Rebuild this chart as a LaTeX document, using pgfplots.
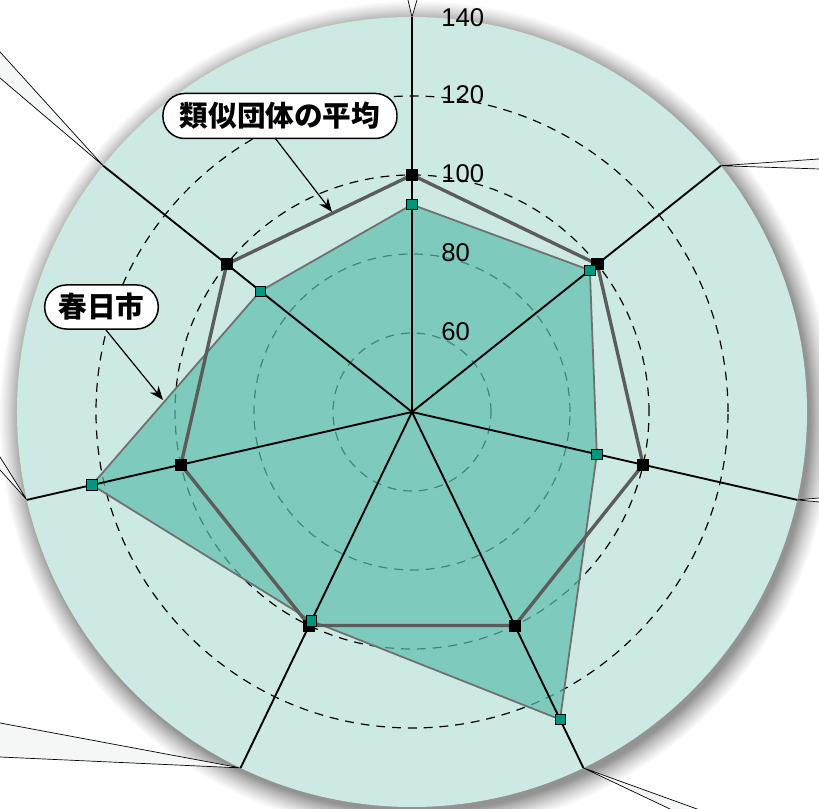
\documentclass[border=0pt]{standalone}
\usepackage{pgfplots}
\pgfplotsset{compat=1.18}
\usepackage{pgfplotstable}
\usepackage{fontspec}
\setmainfont{Liberation Sans}
\newfontfamily\cjk{Noto Sans CJK JP}
\usetikzlibrary{arrows.meta}
\definecolor{disc}{RGB}{204,233,228}
\definecolor{areafill}{RGB}{94,189,172}
\definecolor{areaedge}{RGB}{112,112,112}
\definecolor{avgline}{RGB}{92,92,92}
\definecolor{tealmark}{RGB}{0,150,128}
\definecolor{wedge}{RGB}{244,247,246}

% angle (deg), value
\pgfplotstableread{
ang v
90 92.5
38.571 97.6
-12.857 88.0
-64.286 126.4
-115.714 98.7
-167.143 123.1
-218.571 89.1
90 92.5
}\kasuga
\pgfplotstableread{
ang v
90 100
38.571 100
-12.857 100
-64.286 100
-115.714 100
-167.143 100
-218.571 100
90 100
}\average

\begin{document}
\begin{tikzpicture}
\begin{axis}[
  x=2pt, y=2pt,
  xmin=-104.3, xmax=103.04, ymin=-100.5, ymax=104.3,
  hide axis, clip=true,
]
\coordinate (SW) at (rel axis cs:0,0);
\coordinate (NE) at (rel axis cs:1,1);
% shadow halo
\pgfplotsinvokeforeach{199.6,200.0,200.4,200.8,201.2,201.6,202.0,202.5,203.0,203.5,204.0,204.6,205.2,205.8,206.5,207.2,208.0,208.8,209.7,210.6}{
  \fill[black, opacity=0.026] (axis cs:1.0,-1.4) circle[radius=#1pt];
}
% wedges beyond the disc
\filldraw[fill=wedge, draw=black, line width=0.35pt] (axis cs:0,100) -- (axis cs:-1.64,107) -- (axis cs:2.07,107) -- cycle;
\filldraw[fill=wedge, draw=black, line width=0.35pt] (axis cs:78.18,62.35) -- (axis cs:106,64.25) -- (axis cs:106,61.42) -- cycle;
\filldraw[fill=wedge, draw=black, line width=0.35pt] (axis cs:97.49,-22.25) -- (axis cs:106,-21.51) -- (axis cs:106,-23.06) -- cycle;
\filldraw[fill=wedge, draw=black, line width=0.35pt] (axis cs:43.39,-90.11) -- (axis cs:70.57,-103) -- (axis cs:79.07,-103) -- cycle;
\filldraw[fill=wedge, draw=black, line width=0.35pt] (axis cs:-43.39,-90.11) -- (axis cs:-107,-78.23) -- (axis cs:-107,-87.22) -- cycle;
\filldraw[fill=wedge, draw=black, line width=0.35pt] (axis cs:-97.49,-22.25) -- (axis cs:-107,-7.08) -- (axis cs:-107,-11.68) -- cycle;
\filldraw[fill=wedge, draw=black, line width=0.35pt] (axis cs:-78.18,62.35) -- (axis cs:-107,94.12) -- (axis cs:-107,86.85) -- cycle;
% disc
\fill[disc] (axis cs:0,0) circle[radius=200pt];
% dashed grid circles (60, 80, 100, 120)
\pgfplotsinvokeforeach{40,80,120,160}{
  \draw[black, line width=0.6pt, dash pattern=on 4.5pt off 3.5pt] (axis cs:0,0) circle[radius=#1pt];
}
% 春日市 area
\addplot[fill=areafill, fill opacity=0.7, draw=areaedge, line width=0.9pt, no markers]
  table[x expr={(\thisrow{v}-40)*cos(\thisrow{ang})}, y expr={(\thisrow{v}-40)*sin(\thisrow{ang})}] {\kasuga};
% spokes
\pgfplotsinvokeforeach{90,38.571,-12.857,-64.286,-115.714,-167.143,-218.571}{
  \draw[black, line width=0.95pt] (axis cs:0,0) -- (axis cs:{100*cos(#1)},{100*sin(#1)});
}
% 類似団体の平均
\addplot[draw=avgline, line width=1.7pt, mark=square*, mark size=2.8pt, mark options={fill=black, draw=black, line width=0.3pt}]
  table[x expr={(\thisrow{v}-40)*cos(\thisrow{ang})}, y expr={(\thisrow{v}-40)*sin(\thisrow{ang})}] {\average};
% 春日市 markers
\addplot[only marks, mark=square*, mark size=2.6pt, mark options={fill=tealmark, draw=black, line width=0.4pt}]
  table[x expr={(\thisrow{v}-40)*cos(\thisrow{ang})}, y expr={(\thisrow{v}-40)*sin(\thisrow{ang})}] {\kasuga};
% radial tick labels
\node[anchor=west, inner sep=0pt, font=\fontsize{13}{13}\selectfont] at (axis cs:7.34,20.3) {60};
\node[anchor=west, inner sep=0pt, font=\fontsize{13}{13}\selectfont] at (axis cs:7.34,40.3) {80};
\node[anchor=west, inner sep=0pt, font=\fontsize{13}{13}\selectfont] at (axis cs:7.34,60.3) {100};
\node[anchor=west, inner sep=0pt, font=\fontsize{13}{13}\selectfont] at (axis cs:7.34,80.3) {120};
\node[anchor=west, inner sep=0pt, font=\fontsize{13}{13}\selectfont] at (axis cs:7.34,99.8) {140};
% callouts
\node[draw=black, line width=0.75pt, fill=white, rounded corners=11pt, minimum height=22.8pt, inner xsep=8.5pt, inner ysep=0pt, font=\cjk\bfseries\fontsize{14.5}{14.5}\selectfont] at (axis cs:-33.42,74.94) {類似団体の平均};
\node[draw=black, line width=0.75pt, fill=white, rounded corners=11pt, minimum height=22.3pt, inner xsep=7pt, inner ysep=0pt, font=\cjk\bfseries\fontsize{14.5}{14.5}\selectfont] at (axis cs:-78.61,26.58) {春日市};
\draw[line width=0.6pt, -{Stealth[length=7pt, width=5.5pt]}] (axis cs:-34.68,69.37) -- (axis cs:-20.25,50.63);
\draw[line width=0.6pt, -{Stealth[length=7pt, width=5.5pt]}] (axis cs:-77.47,20.76) -- (axis cs:-63.04,3.04);
\end{axis}
\pgfresetboundingbox
\useasboundingbox (SW) rectangle (NE);
\end{tikzpicture}
\end{document}
